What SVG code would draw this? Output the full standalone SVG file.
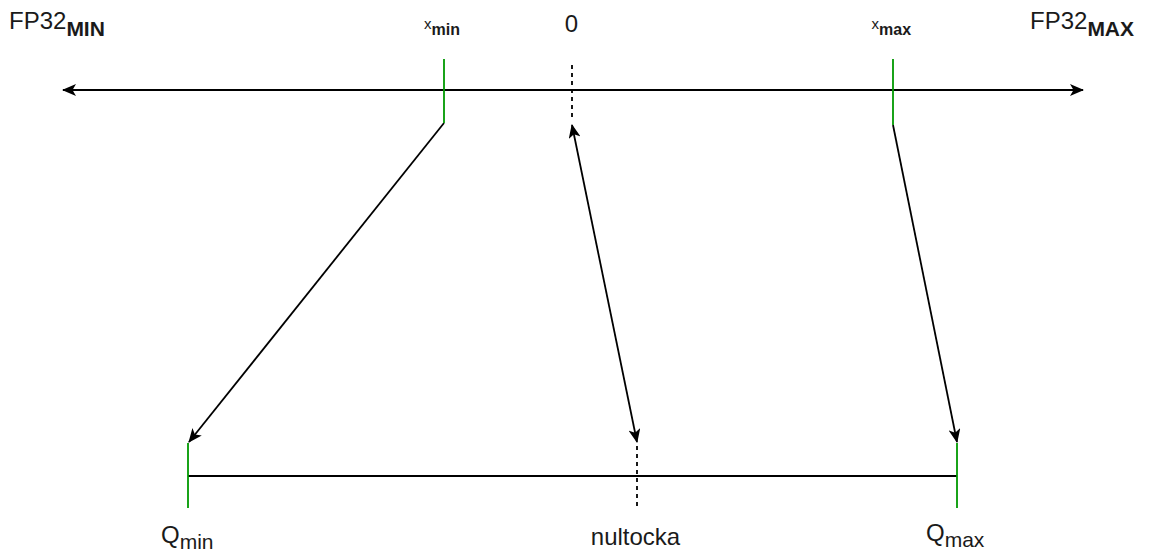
<svg xmlns="http://www.w3.org/2000/svg" width="1149" height="555" viewBox="0 0 1149 555">
<style>
.t{font-family:"Liberation Sans",Arial,sans-serif;fill:#1a1a1a}
.ln{stroke:#000;stroke-width:1.8;fill:none}
.tick{stroke:#009900;stroke-width:1.8;fill:none}
.dash{stroke:#000;stroke-width:1.8;stroke-dasharray:4 4;fill:none}
</style>
<defs>
<marker id="arr" viewBox="0 0 14 12" refX="13" refY="6" markerWidth="14" markerHeight="12" markerUnits="userSpaceOnUse" orient="auto-start-reverse">
<path d="M0,0 L14,6 L0,12 L3.5,6 Z" fill="#000"/>
</marker>
</defs>
<rect width="1149" height="555" fill="#fff"/>
<g id="connectors">
<line class="ln" x1="63" y1="90" x2="1083" y2="90" marker-start="url(#arr)" marker-end="url(#arr)"/>
<line class="ln" x1="188" y1="476" x2="957" y2="476"/>
<line class="ln" x1="444" y1="123" x2="189" y2="442" marker-end="url(#arr)"/>
<line class="ln" x1="893" y1="125" x2="957" y2="442" marker-end="url(#arr)"/>
<line class="ln" x1="572" y1="125" x2="637" y2="442" marker-start="url(#arr)" marker-end="url(#arr)"/>
</g>
<g id="fp32min"><text class="t" x="9" y="29" font-size="24">FP32<tspan font-size="21" font-weight="bold" dy="7">MIN</tspan></text></g>
<g id="fp32max"><text class="t" x="1030" y="29" font-size="24">FP32<tspan font-size="21" font-weight="bold" dy="7">MAX</tspan></text></g>
<g id="xmin">
<line class="tick" x1="444" y1="59" x2="444" y2="123"/>
<text class="t" x="424" y="29" font-size="15">x<tspan font-size="16" font-weight="bold" dy="6">min</tspan></text>
</g>
<g id="zero">
<line class="dash" x1="572" y1="65" x2="572" y2="121"/>
<text class="t" x="571.5" y="32" font-size="24" text-anchor="middle">0</text>
</g>
<g id="xmax">
<line class="tick" x1="893" y1="59" x2="893" y2="125"/>
<text class="t" x="871.5" y="29" font-size="15">x<tspan font-size="16" font-weight="bold" dy="6">max</tspan></text>
</g>
<g id="qmin">
<line class="tick" x1="188" y1="443" x2="188" y2="508"/>
<text class="t" x="161" y="543" font-size="24">Q<tspan font-size="21" dy="6">min</tspan></text>
</g>
<g id="nultocka">
<line class="dash" x1="637" y1="446" x2="637" y2="508"/>
<text class="t" x="635.5" y="545" font-size="24" text-anchor="middle">nultocka</text>
</g>
<g id="qmax">
<line class="tick" x1="957" y1="443" x2="957" y2="508"/>
<text class="t" x="926" y="541" font-size="24">Q<tspan font-size="21" dy="6">max</tspan></text>
</g>
</svg>
